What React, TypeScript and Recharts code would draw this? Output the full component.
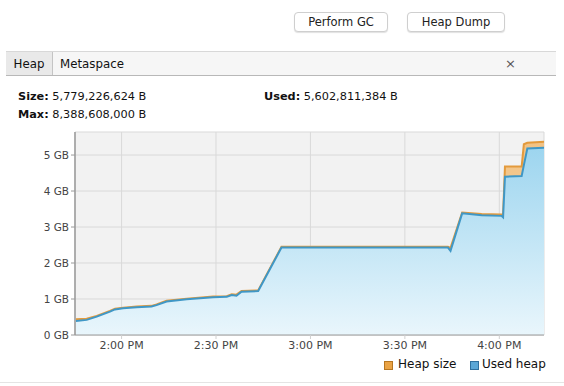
import React from 'react';
import { AreaChart, Area, XAxis, YAxis, CartesianGrid } from 'recharts';

// minutes since 12:00
const times = [105.5, 108.9, 112.1, 116.3, 117.9, 120.5, 124.8, 129.5, 131.1, 134.3, 140.7, 149.1, 153.4, 155.0, 156.5, 158.1, 163.4, 170.8, 223.7, 224.5, 228.2, 234.4, 240.7, 241.2, 241.8, 247.1, 247.8, 248.9, 254.2];
const usedHeap = [0.39, 0.42, 0.51, 0.65, 0.71, 0.74, 0.77, 0.79, 0.83, 0.93, 0.99, 1.05, 1.06, 1.11, 1.09, 1.20, 1.22, 2.43, 2.43, 2.34, 3.38, 3.33, 3.31, 3.27, 4.40, 4.42, 4.72, 5.18, 5.20];
const heapSize = [0.44, 0.45, 0.53, 0.67, 0.73, 0.76, 0.79, 0.81, 0.85, 0.95, 1.01, 1.07, 1.08, 1.13, 1.12, 1.22, 1.24, 2.45, 2.45, 2.42, 3.40, 3.36, 3.35, 3.34, 4.68, 4.68, 5.30, 5.34, 5.37];
const yTicks = [0, 1, 2, 3, 4, 5];
const xTicks = [120, 150, 180, 210, 240];
const xTickLabels = ['2:00 PM', '2:30 PM', '3:00 PM', '3:30 PM', '4:00 PM'];

const data = times.map((t, i) => ({ t, used: usedHeap[i], size: heapSize[i] }));

const FONT = '"DejaVu Sans", "Liberation Sans", sans-serif';

const Button = ({ left, width, label }: { left: number; width: number; label: string }) => (
  <div
    style={{
      position: 'absolute', left, top: 12, width, height: 20, boxSizing: 'border-box',
      border: '1px solid #cfcfcf', borderRadius: 4, background: '#fff',
      boxShadow: '0 1px 1px rgba(0,0,0,0.12)', fontSize: 11.5, color: '#222',
      display: 'flex', alignItems: 'center', justifyContent: 'center',
    }}
  >
    {label}
  </div>
);

export default function App() {
  return (
    <div style={{ position: 'absolute', left: 0, top: 0, width: 564, height: 386, background: '#fff', fontFamily: FONT, overflow: 'hidden' }}>
      <Button left={294} width={94} label="Perform GC" />
      <Button left={407} width={98} label="Heap Dump" />

      {/* tab bar */}
      <div style={{ position: 'absolute', left: 6, top: 51, width: 550, height: 25, boxSizing: 'border-box', background: '#f6f6f6', borderTop: '1px solid #d8d8d8', borderBottom: '1px solid #b8b8b8' }} />
      <div style={{ position: 'absolute', left: 6, top: 52, width: 46, height: 23, background: '#e9e9e9', borderRight: '1px solid #c4c4c4', fontSize: 11.8, color: '#111', display: 'flex', alignItems: 'center', justifyContent: 'center' }}>Heap</div>
      <div style={{ position: 'absolute', left: 60, top: 52, height: 23, fontSize: 11.8, color: '#111', display: 'flex', alignItems: 'center' }}>Metaspace</div>
      <div style={{ position: 'absolute', left: 505, top: 52, height: 23, fontSize: 13, color: '#555', display: 'flex', alignItems: 'center' }}>×</div>

      <div style={{ position: 'absolute', left: 18, top: 90, fontSize: 11.3, color: '#111' }}><b>Size:</b> 5,779,226,624 B</div>
      <div style={{ position: 'absolute', left: 18, top: 108, fontSize: 11.3, color: '#111' }}><b>Max:</b> 8,388,608,000 B</div>
      <div style={{ position: 'absolute', left: 264, top: 90, fontSize: 11.3, color: '#111' }}><b>Used:</b> 5,602,811,384 B</div>

      <div style={{ position: 'absolute', left: 0, top: 0 }}>
        <AreaChart width={564} height={386} data={data} margin={{ top: 132, right: 20, left: 0, bottom: 21 }}>
          <defs>
            <linearGradient id="usedFill" x1="0" y1="0" x2="0" y2="1">
              <stop offset="0%" stopColor="#9dd5ef" />
              <stop offset="100%" stopColor="#e9f6fc" />
            </linearGradient>
            <linearGradient id="sizeFill" x1="0" y1="0" x2="0" y2="1">
              <stop offset="0%" stopColor="#f2c283" />
              <stop offset="100%" stopColor="#f8dcb4" />
            </linearGradient>
          </defs>
          <CartesianGrid fill="#f2f2f2" stroke="#d9d9d9" strokeWidth={1} />
          <XAxis
            type="number"
            dataKey="t"
            domain={[105.2, 254.2]}
            ticks={xTicks}
            tickFormatter={(v: number) => xTickLabels[xTicks.indexOf(v)]}
            tick={{ fontSize: 11, fill: '#444', fontFamily: FONT }}
            tickSize={4}
            height={30}
            axisLine={{ stroke: '#9a9a9a' }}
            tickLine={{ stroke: '#d0d0d0' }}
            allowDataOverflow
          />
          <YAxis
            type="number"
            domain={[0, 5.64]}
            ticks={yTicks}
            tickFormatter={(v: number) => `${v} GB`}
            tick={{ fontSize: 10.5, fill: '#444', fontFamily: FONT }}
            tickSize={4}
            width={75}
            axisLine={{ stroke: '#9a9a9a', strokeWidth: 1.5 }}
            tickLine={{ stroke: '#9a9a9a' }}
            allowDataOverflow
          />
          <Area type="linear" dataKey="size" stroke="#e39a3c" strokeWidth={2} fill="url(#sizeFill)" fillOpacity={1} isAnimationActive={false} dot={false} activeDot={false} />
          <Area type="linear" dataKey="used" stroke="#3f97c6" strokeWidth={2} fill="url(#usedFill)" fillOpacity={1} isAnimationActive={false} dot={false} activeDot={false} />
        </AreaChart>
      </div>

      {/* legend */}
      <div style={{ position: 'absolute', left: 384, top: 361, width: 9, height: 9, boxSizing: 'border-box', background: '#eaa344', border: '1px solid #b77620' }} />
      <div style={{ position: 'absolute', left: 398, top: 357, fontSize: 12, color: '#111' }}>Heap size</div>
      <div style={{ position: 'absolute', left: 470, top: 361, width: 9, height: 9, boxSizing: 'border-box', background: '#5aa6d6', border: '1px solid #2f6f9e' }} />
      <div style={{ position: 'absolute', left: 482, top: 357, fontSize: 12, color: '#111' }}>Used heap</div>
      <div style={{ position: 'absolute', left: 0, top: 382, width: 564, height: 1, background: '#e4e4e4' }} />
    </div>
  );
}
